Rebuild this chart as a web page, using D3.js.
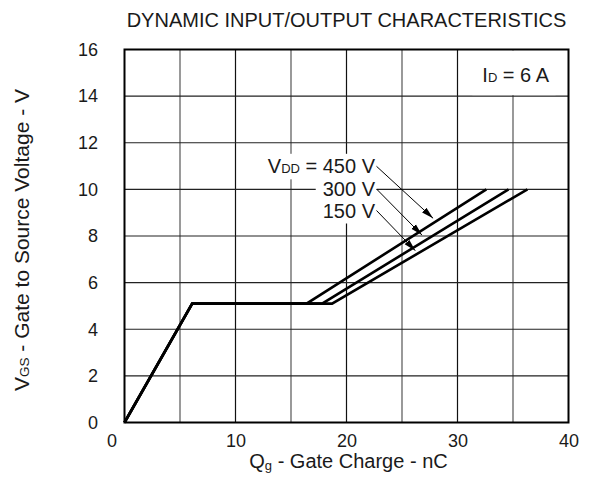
<!DOCTYPE html>
<html><head><meta charset="utf-8">
<script src="https://cdn.jsdelivr.net/npm/d3@7"></script>
<style>body{margin:0;background:#fff}</style>
</head><body><svg id="c" width="596" height="491"></svg>
<script>
// ---- data ----
const xTicks = [0, 10, 20, 30, 40];
const yTicks = [0, 2, 4, 6, 8, 10, 12, 14, 16];
const xMinorGrid = [5, 15, 25, 35];
const xMajorGrid = [10, 20, 30];
const yGrid = [2, 4, 6, 8, 10, 12, 14];
const seriesLabels = ["450 V", "300 V", "150 V"];
const q450 = [0, 6.1, 16.4, 32.6];
const v450 = [0, 5.1, 5.1, 10.0];
const q300 = [0, 6.1, 17.8, 34.6];
const v300 = [0, 5.1, 5.1, 10.0];
const q150 = [0, 6.1, 18.7, 36.3];
const v150 = [0, 5.1, 5.1, 10.0];
const arrowTipQ = [27.8, 26.8, 26.2];
const arrowTipV = [8.76, 8.04, 7.37];

// ---- layout ----
const FONT = "'Liberation Sans', Arial, sans-serif";
const TXT = "#1a1a1a";
const svg = d3.select("#c");
const x = d3.scaleLinear().domain([0, 40]).range([124.5, 568.5]);
const y = d3.scaleLinear().domain([0, 16]).range([422.5, 49.5]);

const series = [
  {q: q450, v: v450}, {q: q300, v: v300}, {q: q150, v: v150}
].map(s => s.q.map((qq, i) => [qq, s.v[i]]));

// grid
const grid = svg.append("g");
grid.selectAll(".vmin").data(xMinorGrid).join("line")
  .attr("x1", d => x(d)).attr("x2", d => x(d))
  .attr("y1", y(16)).attr("y2", y(0))
  .attr("stroke", "#808080").attr("stroke-width", 1.6);
grid.selectAll(".vmaj").data(xMajorGrid).join("line")
  .attr("x1", d => x(d)).attr("x2", d => x(d))
  .attr("y1", y(16)).attr("y2", y(0))
  .attr("stroke", "#111").attr("stroke-width", 1.2);
grid.selectAll(".h").data(yGrid).join("line")
  .attr("x1", x(0)).attr("x2", x(40))
  .attr("y1", d => y(d)).attr("y2", d => y(d))
  .attr("stroke", "#222").attr("stroke-width", 1.2);

const bg = svg.append("g");

// border
svg.append("rect")
  .attr("x", x(0)).attr("y", y(16))
  .attr("width", x(40) - x(0)).attr("height", y(0) - y(16))
  .attr("fill", "none").attr("stroke", "#000").attr("stroke-width", 2);

// curves
const line = d3.line().x(d => x(d[0])).y(d => y(d[1]));
svg.append("g").selectAll("path").data(series).join("path")
  .attr("d", line).attr("fill", "none")
  .attr("stroke", "#000").attr("stroke-width", 2.6)
  .attr("stroke-linejoin", "miter");

// axes
const ax = d3.axisBottom(x).tickValues(xTicks).tickSize(0).tickPadding(12);
const gx = svg.append("g").attr("transform", `translate(0,${y(0)})`).call(ax);
gx.select(".domain").remove();
gx.selectAll("text").attr("font-size", 18).attr("font-family", FONT).attr("fill", TXT)
  .attr("dx", d => d === 0 ? -13 : 0);
const ay = d3.axisLeft(y).tickValues(yTicks).tickSize(0).tickPadding(26.5);
const gy = svg.append("g").attr("transform", `translate(${x(0)},0)`).call(ay);
gy.select(".domain").remove();
gy.selectAll("text").attr("font-size", 18).attr("font-family", FONT).attr("fill", TXT);

// title
svg.append("text").attr("x", (x(0) + x(40)) / 2).attr("y", 26.7)
  .attr("text-anchor", "middle").attr("font-size", 20).attr("font-family", FONT)
  .attr("fill", TXT).text("DYNAMIC INPUT/OUTPUT CHARACTERISTICS");

// axis titles
const xl = svg.append("text").attr("x", (x(0) + x(40)) / 2 + 2).attr("y", 468)
  .attr("text-anchor", "middle").attr("font-size", 20).attr("font-family", FONT).attr("fill", TXT);
xl.append("tspan").text("Q");
xl.append("tspan").attr("font-size", 13).attr("dy", 1.5).text("g");
xl.append("tspan").attr("dy", -1.5).text(" - Gate Charge - nC");

const yl = svg.append("text").attr("transform", "translate(29,240) rotate(-90)")
  .attr("text-anchor", "middle").attr("font-size", 21).attr("font-family", FONT).attr("fill", TXT);
yl.append("tspan").text("V");
yl.append("tspan").attr("font-size", 13.5).text("GS");
yl.append("tspan").text(" - Gate to Source Voltage - V");

// I_D label
const idt = svg.append("text").attr("x", x(40) - 19.5).attr("y", 81.7)
  .attr("text-anchor", "end").attr("font-size", 20).attr("font-family", FONT).attr("fill", TXT);
idt.append("tspan").text("I");
idt.append("tspan").attr("font-size", 13).text("D");
idt.append("tspan").text(" = 6 A");
const ib = idt.node().getBBox();
bg.append("rect").attr("x", ib.x - 10).attr("y", y(16) + 1)
  .attr("width", ib.width + 16).attr("height", y(14) - y(16) - 2).attr("fill", "#fff");

// V_DD labels with leaders
svg.append("defs").append("marker").attr("id", "ah")
  .attr("viewBox", "0 -5 12 10").attr("refX", 12).attr("refY", 0)
  .attr("markerWidth", 12).attr("markerHeight", 10)
  .attr("markerUnits", "userSpaceOnUse").attr("orient", "auto")
  .append("path").attr("d", "M0,-3.2L12,0L0,3.2Z").attr("fill", "#000");

const labelEndX = 375;
const labelBase = [173.3, 196, 217.5];
seriesLabels.forEach((lab, i) => {
  const t = svg.append("text").attr("x", labelEndX).attr("y", labelBase[i])
    .attr("text-anchor", "end").attr("font-size", 20).attr("font-family", FONT).attr("fill", TXT);
  if (i === 0) {
    t.append("tspan").text("V");
    t.append("tspan").attr("font-size", 13).text("DD");
    t.append("tspan").text(" = " + lab);
  } else {
    t.text(lab);
  }
  const b = t.node().getBBox();
  bg.append("rect").attr("x", b.x - 7).attr("y", b.y - 1.5)
    .attr("width", b.width + 8).attr("height", b.height + 3.5).attr("fill", "#fff");
  svg.append("line")
    .attr("x1", labelEndX + 1.5).attr("y1", labelBase[i] - 7)
    .attr("x2", x(arrowTipQ[i])).attr("y2", y(arrowTipV[i]))
    .attr("stroke", "#000").attr("stroke-width", 1)
    .attr("marker-end", "url(#ah)");
});
</script></body></html>
